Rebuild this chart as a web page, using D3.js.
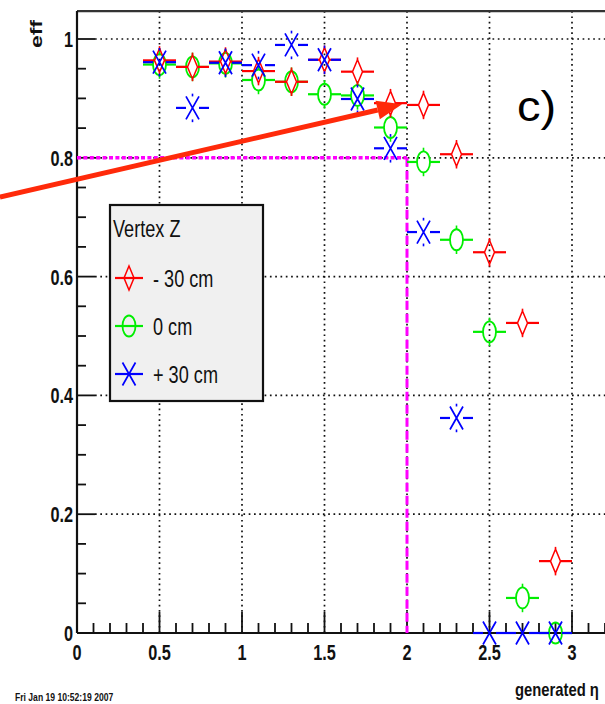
<!DOCTYPE html>
<html>
<head>
<meta charset="utf-8">
<script src="https://cdn.jsdelivr.net/npm/d3@7"></script>
<style>
  html, body { margin: 0; padding: 0; background: #fff; }
  svg { display: block; }
  text { font-family: "Liberation Sans", Arial, Helvetica, sans-serif; }
</style>
</head>
<body>
<script>
// Efficiency vs generated pseudorapidity for three vertex-z positions
const etaBins = [0.5, 0.7, 0.9, 1.1, 1.3, 1.5, 1.7, 1.9, 2.1, 2.3, 2.5, 2.7, 2.9];
const binHalfWidth = 0.1;
const effMinus30 = [0.964, 0.953, 0.962, 0.946, 0.928, 0.965, 0.945, 0.892, 0.889, 0.806, 0.641, 0.522, 0.121];
const effZero    = [0.957, 0.953, 0.959, 0.931, 0.928, 0.907, 0.905, 0.851, 0.793, 0.662, 0.507, 0.059, 0.0];
const effPlus30  = [0.961, 0.884, 0.960, 0.956, 0.990, 0.965, 0.899, 0.816, 0.675, 0.362, 0.0, 0.0, 0.0];
const effErr = 0.024; // statistical error on each efficiency point

const seriesNames  = ["- 30 cm", "0 cm", "+ 30 cm"];
const legendTitle  = "Vertex Z";
const xTickValues  = [0, 0.5, 1, 1.5, 2, 2.5, 3];
const xTickLabels  = ["0", "0.5", "1", "1.5", "2", "2.5", "3"];
const yTickValues  = [0, 0.2, 0.4, 0.6, 0.8, 1];
const yTickLabels  = ["0", "0.2", "0.4", "0.6", "0.8", "1"];
const cutEff = 0.8;   // efficiency threshold
const cutEta = 2.0;   // eta where threshold is crossed
const arrowFrom = [-0.467, 0.734];
const arrowTo   = [1.97, 0.89];
const xTitle = "generated η";
const yTitle = "eff";
const panelTag = "c)";
const stamp = "Fri Jan 19 10:52:19 2007";

const W = 605, H = 704;
const svg = d3.select("body").append("svg").attr("width", W).attr("height", H);

const x = d3.scaleLinear().domain([0, 3.3]).range([77, 621.5]);
const y = d3.scaleLinear().domain([0, 1]).range([633, 39]);
const yTop = 1.047;

const ink = "#111";

// grid (dotted)
const grid = svg.append("g").attr("stroke", ink).attr("stroke-width", 1.7)
  .attr("stroke-dasharray", "1.7 3.6").attr("fill", "none");
xTickValues.filter(v => v > 0).forEach(v => {
  grid.append("line").attr("x1", x(v)).attr("x2", x(v)).attr("y1", y(yTop)).attr("y2", y(0));
});
yTickValues.filter(v => v > 0).forEach(v => {
  grid.append("line").attr("x1", x(0) + 18).attr("x2", W).attr("y1", y(v)).attr("y2", y(v));
});

// frame and axes
const axisG = svg.append("g").attr("stroke", ink).attr("fill", "none");
axisG.append("line").attr("x1", x(0)).attr("x2", W).attr("y1", y(yTop)).attr("y2", y(yTop))
  .attr("stroke-width", 2.4).attr("stroke", "#333");
axisG.append("line").attr("x1", x(0)).attr("x2", x(0)).attr("y1", y(yTop)).attr("y2", y(0))
  .attr("stroke-width", 2.2);
axisG.append("line").attr("x1", x(0)).attr("x2", W).attr("y1", y(0)).attr("y2", y(0))
  .attr("stroke-width", 2.2);

// ticks
d3.range(0, 33).map(i => i / 10).forEach(v => {
  const major = Math.abs(v * 2 - Math.round(v * 2)) < 1e-6;
  axisG.append("line").attr("x1", x(v)).attr("x2", x(v))
    .attr("y1", y(0)).attr("y2", y(0) - (major ? 21 : 10)).attr("stroke-width", 1.8);
});
d3.range(0, 21).map(i => i / 20).forEach(v => {
  const major = Math.abs(v * 5 - Math.round(v * 5)) < 1e-6;
  axisG.append("line").attr("x1", x(0)).attr("x2", x(0) + (major ? 18 : 9))
    .attr("y1", y(v)).attr("y2", y(v)).attr("stroke-width", 1.8);
});

// tick labels
const tl = svg.append("g").attr("fill", ink).attr("font-weight", "bold").attr("font-size", 22);
yTickValues.forEach((v, i) => {
  tl.append("text").attr("transform", `translate(${x(0) - 4},${y(v) + 8}) scale(0.74,1)`)
    .attr("text-anchor", "end").text(yTickLabels[i]);
});
xTickValues.forEach((v, i) => {
  tl.append("text").attr("transform", `translate(${x(v)},${y(0) + 27}) scale(0.74,1)`)
    .attr("text-anchor", "middle").text(xTickLabels[i]);
});

// axis titles
svg.append("text").attr("transform", `translate(42,20) rotate(-90) scale(1.35,1)`)
  .attr("text-anchor", "end").attr("font-weight", "bold").attr("font-size", 17).attr("fill", ink)
  .text(yTitle);
svg.append("text").attr("transform", `translate(515,696) scale(0.8,1)`)
  .attr("font-weight", "bold").attr("font-size", 18.5).attr("fill", ink).text(xTitle);
svg.append("text").attr("transform", `translate(15,701) scale(0.78,1)`)
  .attr("font-weight", "bold").attr("font-size", 11).attr("fill", ink).text(stamp);

// threshold guide lines
svg.append("line").attr("x1", x(0)).attr("x2", x(cutEta)).attr("y1", y(cutEff)).attr("y2", y(cutEff))
  .attr("stroke", "#ff00ff").attr("stroke-width", 3.5).attr("stroke-dasharray", "4 2.4");
svg.append("line").attr("x1", x(cutEta)).attr("x2", x(cutEta)).attr("y1", y(cutEff)).attr("y2", y(0))
  .attr("stroke", "#ff00ff").attr("stroke-width", 3).attr("stroke-dasharray", "9 4");

// marker drawers: 0 open diamond, 1 open circle, 2 cross
const colors = ["#ff0000", "#00ee00", "#0000ff"];
const markerHalfW = [5, 6.5, 6.5];
const markerHalfH = [12, 10.5, 11.5];
function drawMarker(g, kind, cx, cy, color) {
  const m = g.append("g").attr("transform", `translate(${cx},${cy})`)
    .attr("stroke", color).attr("fill", "none").attr("stroke-width", 1.5);
  if (kind === 0) {
    m.append("path").attr("d", "M0,-12 L5,0 L0,12 L-5,0 Z");
  } else if (kind === 1) {
    m.append("ellipse").attr("rx", 6.5).attr("ry", 10.5).attr("stroke-width", 1.8);
  } else {
    m.append("path").attr("d", "M-6.5,-11.5 L6.5,11.5 M-6.5,11.5 L6.5,-11.5")
      .attr("stroke-width", 1.7);
  }
}

const seriesVals = [effMinus30, effZero, effPlus30];
const order = [1, 0, 2];
const pts = svg.append("g");
order.forEach(k => {
  const vals = seriesVals[k];
  const c = colors[k];
  etaBins.forEach((eta, i) => {
    const cx = x(eta), cy = y(vals[i]);
    const hw = markerHalfW[k], hh = markerHalfH[k];
    // horizontal bin-width bars, stopping at the marker outline
    pts.append("line").attr("x1", x(eta - binHalfWidth)).attr("x2", cx - hw)
      .attr("y1", cy).attr("y2", cy).attr("stroke", c).attr("stroke-width", 2.2);
    pts.append("line").attr("x1", cx + hw).attr("x2", x(eta + binHalfWidth))
      .attr("y1", cy).attr("y2", cy).attr("stroke", c).attr("stroke-width", 2.2);
    // vertical error bars outside the marker
    if (vals[i] > 0) {
      const top = y(vals[i] + effErr), bot = y(vals[i] - effErr);
      if (top < cy - hh) pts.append("line").attr("x1", cx).attr("x2", cx).attr("y1", top).attr("y2", cy - hh)
        .attr("stroke", c).attr("stroke-width", 1.6);
      if (bot > cy + hh) pts.append("line").attr("x1", cx).attr("x2", cx).attr("y1", cy + hh).attr("y2", bot)
        .attr("stroke", c).attr("stroke-width", 1.6);
    }
    drawMarker(pts, k, cx, cy, c);
  });
});

// legend
const leg = svg.append("g");
leg.append("rect").attr("x", 110).attr("y", 205).attr("width", 153).attr("height", 196)
  .attr("fill", "#f0f0f0").attr("stroke", ink).attr("stroke-width", 2.2);
leg.append("text").attr("transform", "translate(113,237) scale(0.74,1)")
  .attr("font-size", 24.5).attr("fill", ink).text(legendTitle);
const legY = [278, 326, 374];
seriesNames.forEach((name, k) => {
  leg.append("line").attr("x1", 115).attr("x2", 143).attr("y1", legY[k]).attr("y2", legY[k])
    .attr("stroke", colors[k]).attr("stroke-width", 2.2);
  drawMarker(leg, k, 129, legY[k], colors[k]);
  leg.append("text").attr("transform", `translate(153,${legY[k] + 9}) scale(0.74,1)`)
    .attr("font-size", 24.5).attr("fill", ink).text(name);
});

// panel tag
svg.append("text").attr("transform", "translate(517,121) scale(1.12,1)")
  .attr("font-size", 42).attr("fill", "#000").text(panelTag);

// annotation arrow
const ax0 = x(arrowFrom[0]), ay0 = y(arrowFrom[1]);
const ax1 = x(arrowTo[0]), ay1 = y(arrowTo[1]);
const ang = Math.atan2(ay1 - ay0, ax1 - ax0);
const headLen = 25, headHalf = 9.5;
const bx = ax1 - headLen * Math.cos(ang), by = ay1 - headLen * Math.sin(ang);
svg.append("line").attr("x1", ax0).attr("y1", ay0).attr("x2", bx).attr("y2", by)
  .attr("stroke", "#ff2a0a").attr("stroke-width", 5);
svg.append("path")
  .attr("d", `M${ax1},${ay1} L${bx - headHalf * Math.sin(ang)},${by + headHalf * Math.cos(ang)} L${bx + headHalf * Math.sin(ang)},${by - headHalf * Math.cos(ang)} Z`)
  .attr("fill", "#ff2a0a");
</script>
</body>
</html>
